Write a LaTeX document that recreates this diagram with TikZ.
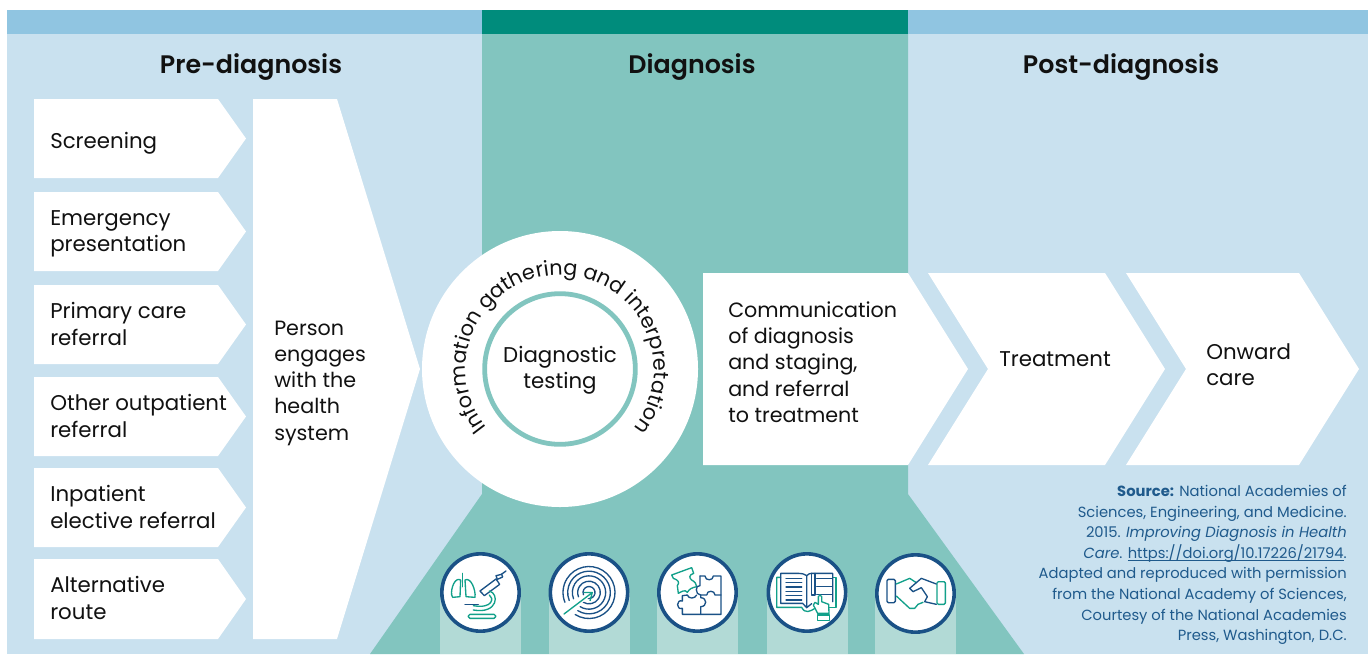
\documentclass[tikz,border=0pt]{standalone}
\usepackage{fontspec}
\usetikzlibrary{decorations.text,arrows.meta}
\setmainfont{Poppins}
\newfontfamily\headfont{Poppins SemiBold}
\definecolor{barblue}{HTML}{90C5E1}
\definecolor{paleblue}{HTML}{C9E1EF}
\definecolor{barteal}{HTML}{008C7C}
\definecolor{midteal}{HTML}{82C5BF}
\definecolor{paleteal}{HTML}{B2DAD6}
\definecolor{navy}{HTML}{1A5186}
\definecolor{icongreen}{HTML}{12A08A}
\definecolor{srcblue}{HTML}{1F5A8C}
\definecolor{ink}{HTML}{111111}
\newcommand{\curvefont}{\fontsize{15.55pt}{18pt}\selectfont}
\newcommand{\linkline}[1]{\sbox0{#1}\rlap{\rule[-1.7pt]{\wd0}{.45pt}}\usebox0}
\tikzset{
  flatshape/.style={fill=white,draw=none},
  lbl/.style={text=ink,font=\fontsize{16pt}{19.7pt}\selectfont,inner sep=0pt,align=left,anchor=west},
  lblsmall/.style={lbl,font=\fontsize{15.5pt}{19.7pt}\selectfont},
  head/.style={text=ink,font=\fontsize{19pt}{22pt}\selectfont\headfont,inner sep=0pt},
  iconring/.style={circle,draw=navy,fill=white,line width=2.7pt,minimum size=58pt,inner sep=0pt},
  nv/.style={draw=navy,line width=1pt,line join=round,line cap=round},
  gn/.style={draw=icongreen,line width=1pt,line join=round,line cap=round},
  zoomA/.style={shift={(#1)},x=.25pt,y=-.25pt},
}
\begin{document}
\begin{tikzpicture}[x=.75pt,y=-.75pt]
\useasboundingbox (0,0) rectangle (1370,654);
% backgrounds
\fill[paleblue] (7,34) rectangle (482,654);
\fill[paleblue] (908,34) rectangle (1368,654);
\fill[barblue] (7,10) rectangle (482,34);
\fill[barblue] (908,10) rectangle (1368,34);
\fill[barteal] (482,10) rectangle (908,34);
\fill[midteal] (482,34) -- (908,34) -- (908,494) -- (1024,654) -- (370,654) -- (482,494) -- cycle;
% headings
\node[head] (hpre) at (251,67) {Pre-diagnosis};
\node[head] (hdiag) at (692,67) {Diagnosis};
\node[head] (hpost) at (1121,67) {Post-diagnosis};
% left chevrons
\foreach \t/\b in {99/178,192/271,285/364,377/456,468/547,559/639}{
  \fill[flatshape] (34,\t) -- (218,\t) -- (246,{(\t+\b)/2}) -- (218,\b) -- (34,\b) -- cycle;
}
\fill[flatshape] (253,99) -- (337,99) -- (420,369) -- (337,639) -- (253,639) -- cycle;
\node[lbl] (screen) at (50,143) {Screening};
\node[lbl] (emerg) at (50,234) {Emergency\\presentation};
\node[lbl] (prim) at (50,324) {Primary care\\referral};
\node[lbl] (other) at (50,416) {Other outpatient\\referral};
\node[lbl] (inpat) at (50,507) {Inpatient\\elective referral};
\node[lbl] (alt) at (50,598) {Alternative\\route};
\node[lblsmall] (person) at (274,383) {Person\\engages\\with the\\health\\system};
% circle
\coordinate (cc) at (560,369);
\fill[white] (cc) circle[radius=103.5pt];
\draw[midteal,line width=3.6pt,fill=white] (cc) circle[radius=56.5pt];
\path[decorate,decoration={text along path,text align=center,
  text={|\curvefont\color{ink}|Information gathering and interpretation}}]
  (cc) ++(235:70.5pt) arc[start angle=235,end angle=-55,radius=70.5pt];
\node[lbl,anchor=center,align=center] (dtest) at (560,370.5) {Diagnostic\\testing};
% right chevrons
\fill[flatshape] (703,273) -- (908,273) -- (968,369) -- (908,465) -- (703,465) -- cycle;
\fill[flatshape] (928,273) -- (1105,273) -- (1165,369) -- (1105,465) -- (928,465) -- (988,369) -- cycle;
\fill[flatshape] (1126,273) -- (1299,273) -- (1359,369) -- (1299,465) -- (1126,465) -- (1186,369) -- cycle;
\node[lblsmall] (comm) at (728,362) {Communication\\of diagnosis\\and staging,\\and referral\\to treatment};
\node[lbl] (treat) at (999,359) {Treatment};
\node[lbl] (onward) at (1206,365) {Onward\\care};
% source
\node[inner sep=0pt,anchor=north east,align=right,text=srcblue,font=\fontsize{11.05pt}{15.45pt}\selectfont] (src) at (1347,485)
 {\textbf{Source:} National Academies of\\Sciences, Engineering, and Medicine.\\2015. \textit{Improving Diagnosis in Health}\\\textit{Care}. \linkline{https://doi.org/10.17226/21794}.\\Adapted and reproduced with permission\\from the National Academy of Sciences,\\Courtesy of the National Academies\\Press, Washington, D.C.};
% icon columns and rings
\foreach \n/\x/\y in {a/480.5/592.5,b/589/592.5,c/697.5/592.5,d/807/592.5,e/915.5/593.5}{
  \fill[paleteal] (\x-40.5,\y) rectangle (\x+40.5,654);
  \node[iconring] (ring\n) at (\x,\y) {};
}
% icon: lungs and microscope
\begin{scope}[zoomA={430,545}]
  \draw[gn] (92,105) .. controls (75,95) and (62,130) .. (65,150) -- (68,157) -- (90,155) -- cycle;
  \draw[gn] (105,105) .. controls (122,95) and (138,135) .. (135,157) -- (108,155) -- cycle;
  \draw[gn] (98,85) -- (98,125);
  \draw[nv] (150,138) -- (198,102) -- (209,118) -- (163,152) -- cycle;
  \draw[nv] (202,103) -- (198,92) -- (215,88) -- (218,96) -- cycle;
  \draw[nv] (214,88) -- (228,78);
  \draw[gn] (178,138) .. controls (208,145) and (205,208) .. (130,195);
  \draw[gn] (178,150) .. controls (192,158) and (190,192) .. (130,182);
  \draw[gn,rounded corners=1.2pt] (115,208) rectangle (197,220);
  \draw[nv] (105,178) -- (145,178);
\end{scope}
% icon: target
\foreach \r in {4.5,8.5,12.5,16,19.5}{
  \draw[nv] (ringb.center) ++(238:\r pt) arc[start angle=238,end angle=562,radius=\r pt];
}
\coordinate (arrowfoot) at (564,614);
\coordinate (arrowtip) at (593,592);
\draw[white,line width=3pt] (arrowfoot) -- (arrowtip);
\draw[gn,-{Straight Barb[length=5pt,width=8pt]}] (arrowfoot) -- (arrowtip);
% icon: puzzle
\begin{scope}[zoomA={650,545}]
  \draw[gn] (65,90) -- (125,68) -- (131,85) .. controls (115,90) and (118,100) .. (125,105) .. controls (135,110) and (140,118) .. (140,125) .. controls (125,128) and (118,132) .. (112,142) .. controls (105,132) and (95,140) .. (85,145) -- (82,122) .. controls (90,112) and (85,105) .. (70,100) -- cycle;
  \draw[nv] (150,93) -- (165,93) .. controls (165,108) and (190,108) .. (190,93) -- (213,93) -- (213,208) -- (97,208) -- (97,190) .. controls (78,196) and (78,162) .. (97,168) -- (97,152) -- (112,150) .. controls (115,162) and (135,162) .. (140,150);
  \draw[nv] (150,93) -- (150,122) .. controls (135,118) and (135,150) .. (152,150) -- (152,158) .. controls (172,158) and (172,185) .. (152,185) -- (152,208);
  \draw[nv] (152,150) -- (170,150) .. controls (170,135) and (195,135) .. (195,150) -- (213,150);
\end{scope}
% icon: book
\begin{scope}[zoomA={760,545}]
  \draw[gn] (62,97) -- (50,97) -- (50,187) -- (125,187) .. controls (135,207) and (150,200) .. (168,188);
  \draw[gn] (218,97) -- (228,97) -- (228,187) -- (208,187);
  \draw[nv] (140,92) .. controls (130,86) and (125,85) .. (115,85) -- (62,85) -- (62,175) -- (128,175) -- (140,188);
  \draw[nv] (140,92) .. controls (146,86) and (150,85) .. (155,85) -- (218,85) -- (218,170);
  \draw[nv] (140,92) -- (140,188) -- (155,176);
  \draw[nv] (155,85) -- (155,150) -- (165,150) -- (165,85);
  \foreach \y in {100,113,126,139,152,165}{\draw[nv] (78,\y) -- (125,\y);}
  \foreach \y in {100,125,148}{\draw[nv] (170,\y) -- (215,\y);}
  \draw[gn,fill=white] (173,205) -- (160,180) -- (165,172) -- (175,178) -- (175,155) .. controls (176,148) and (184,148) .. (185,155) -- (185,170) -- (206,178) -- (207,205) -- cycle;
  \draw[gn,fill=white] (172,210) rectangle (208,226);
\end{scope}
% icon: handshake
\begin{scope}[zoomA={868,545}]
  \draw[nv,rounded corners=1pt] (57,103) rectangle (82,173);
  \draw[gn,rounded corners=1pt] (207,110) rectangle (232,178);
  \draw[gn] (85,117) -- (125,100) -- (145,113);
  \draw[gn] (85,153) -- (125,190) -- (140,190) -- (150,178) -- (165,172);
  \draw[nv] (205,117) -- (160,100) -- (125,130) -- (135,140) -- (160,128) -- (178,155) -- (170,170) -- (205,178);
\end{scope}
\end{tikzpicture}
\end{document}
